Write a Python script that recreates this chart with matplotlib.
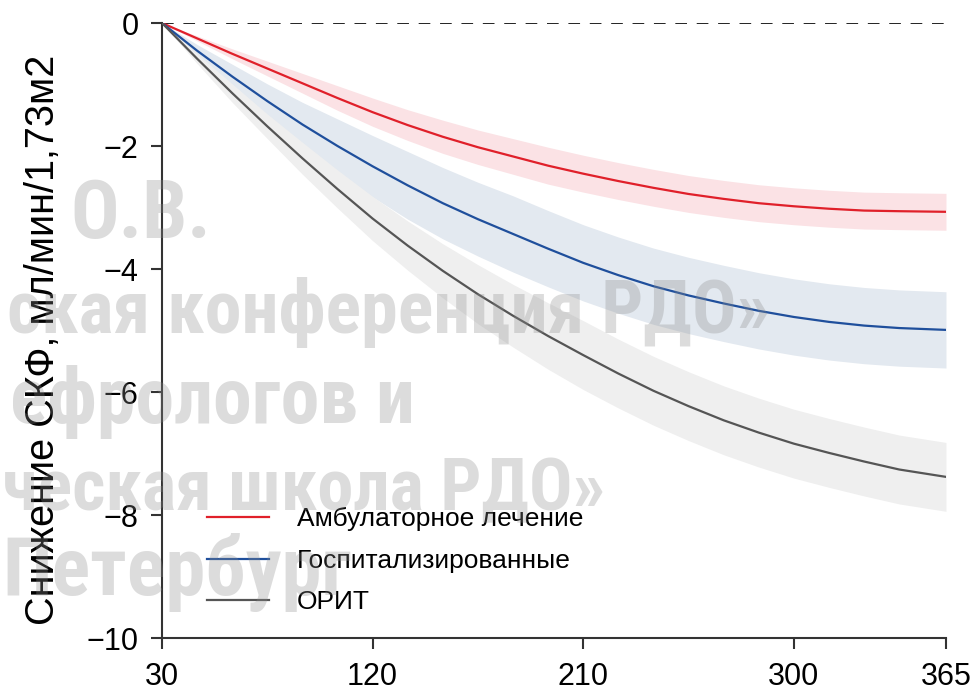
import matplotlib
matplotlib.use("Agg")
import matplotlib.pyplot as plt

plt.rcParams['font.family'] = ['Liberation Sans', 'DejaVu Sans']
plt.rcParams['axes.unicode_minus'] = True

days = [30, 45, 60, 75, 90, 105, 120, 135, 150, 165, 180, 195, 210,
        225, 240, 255, 270, 285, 300, 315, 330, 345, 365]

amb_mean = [0, -0.25, -0.50, -0.74, -0.98, -1.22, -1.45, -1.66, -1.85, -2.02, -2.17, -2.32,
            -2.45, -2.57, -2.68, -2.78, -2.86, -2.93, -2.98, -3.02, -3.05, -3.06, -3.07]
amb_hi = [0, -0.21, -0.42, -0.62, -0.82, -1.02, -1.22, -1.41, -1.58, -1.74, -1.88, -2.02,
          -2.15, -2.27, -2.38, -2.48, -2.56, -2.63, -2.68, -2.72, -2.75, -2.76, -2.77]
amb_lo = [0, -0.29, -0.58, -0.86, -1.14, -1.42, -1.68, -1.91, -2.12, -2.30, -2.46, -2.62,
          -2.75, -2.87, -2.98, -3.08, -3.16, -3.23, -3.28, -3.32, -3.35, -3.36, -3.37]

hosp_mean = [0, -0.45, -0.87, -1.27, -1.65, -2.00, -2.33, -2.64, -2.93, -3.19, -3.43, -3.67,
             -3.90, -4.10, -4.28, -4.43, -4.56, -4.68, -4.78, -4.86, -4.92, -4.96, -4.99]
hosp_hi = [0, -0.35, -0.67, -0.99, -1.29, -1.56, -1.83, -2.09, -2.35, -2.59, -2.81, -3.05,
           -3.28, -3.48, -3.66, -3.81, -3.94, -4.06, -4.16, -4.24, -4.30, -4.34, -4.37]
hosp_lo = [0, -0.55, -1.07, -1.55, -2.01, -2.44, -2.83, -3.19, -3.51, -3.79, -4.05, -4.29,
           -4.52, -4.72, -4.90, -5.05, -5.18, -5.30, -5.40, -5.48, -5.54, -5.58, -5.61]

icu_mean = [0, -0.58, -1.14, -1.68, -2.20, -2.70, -3.18, -3.62, -4.03, -4.41, -4.76, -5.09,
            -5.40, -5.70, -5.98, -6.23, -6.46, -6.66, -6.84, -6.99, -7.13, -7.26, -7.38]
icu_hi = [0, -0.50, -0.99, -1.48, -1.94, -2.39, -2.82, -3.22, -3.59, -3.93, -4.25, -4.55,
          -4.84, -5.14, -5.42, -5.67, -5.90, -6.10, -6.28, -6.43, -6.57, -6.70, -6.82]
icu_lo = [0, -0.66, -1.29, -1.88, -2.46, -3.01, -3.54, -4.02, -4.47, -4.89, -5.27, -5.63,
          -5.96, -6.26, -6.54, -6.79, -7.02, -7.22, -7.40, -7.55, -7.69, -7.82, -7.94]

labels = ['Амбулаторное лечение', 'Госпитализированные', 'ОРИТ']
xticks = [30, 120, 210, 300, 365]
yticks = [0, -2, -4, -6, -8, -10]

fig = plt.figure(figsize=(9.8, 6.95), dpi=100)
ax = fig.add_axes([0.1653, 0.082, 0.8, 0.8849])

series = [
    (amb_mean, amb_hi, amb_lo, '#e0202a', '#fbe2e5'),
    (hosp_mean, hosp_hi, hosp_lo, '#1f4f9c', '#e3e9f0'),
    (icu_mean, icu_hi, icu_lo, '#555555', '#efefef'),
]
lines = []
for mean, hi, lo, c, fc in series:
    ax.fill_between(days, lo, hi, color=fc, lw=0, zorder=1)
for (mean, hi, lo, c, fc), lab in zip(series, labels):
    ln, = ax.plot(days, mean, color=c, lw=1.6, zorder=3, label=lab)
    lines.append(ln)

ax.axhline(0, color='#222222', lw=1.4, ls=(0, (6, 5)), zorder=2)

ax.set_xlim(30, 365)
ax.set_ylim(-10, 0)
ax.set_xticks(xticks)
ax.set_yticks(yticks)
ax.tick_params(labelsize=22, length=8, width=1.5, color='#333333', pad=9)
for s in ['top', 'right']:
    ax.spines[s].set_visible(False)
for s in ['left', 'bottom']:
    ax.spines[s].set_linewidth(1.5)
    ax.spines[s].set_color('#333333')
ax.set_ylabel('Снижение СКФ, мл/мин/1,73м2', fontsize=28.5)
ax.yaxis.set_label_coords(-0.128, 0.485)

leg = ax.legend(handles=lines, loc='lower left', bbox_to_anchor=(0.027, 0.0),
                frameon=False, handlelength=2.35, handletextpad=1.05,
                labelspacing=0.66,
                prop={'family': ['Liberation Sans Narrow', 'Liberation Sans'], 'size': 19})

# полупрозрачная подпись-водяной знак (видимые части), поверх графика
wm_text = ['О.В.', 'ская конференция РДО»', 'ефрологов и', 'ческая школа РДО»', 'Петербург']
wm_left = [70, 7, 10, 2, 2]
wm_right = [213, 770, 415, 605, 395]
wm_base = [238, 333, 423, 510, 595]
W, H = 980, 695
wms = []
for t, l, b in zip(wm_text, wm_left, wm_base):
    wms.append(fig.text(l / W, 1 - b / H, t, ha='left', va='baseline', fontsize=56,
                        fontweight='bold', color='#8c8c8c', alpha=0.3, zorder=5,
                        family=['Liberation Sans Narrow', 'Roboto Condensed', 'Liberation Sans']))
fig.canvas.draw()
r = fig.canvas.get_renderer()
for txt, l, rr in zip(wms, wm_left, wm_right):
    w = txt.get_window_extent(r).width
    txt.set_fontsize(min(58, 56 * (rr - l) / w))

fig.savefig('out.png', dpi=100)
